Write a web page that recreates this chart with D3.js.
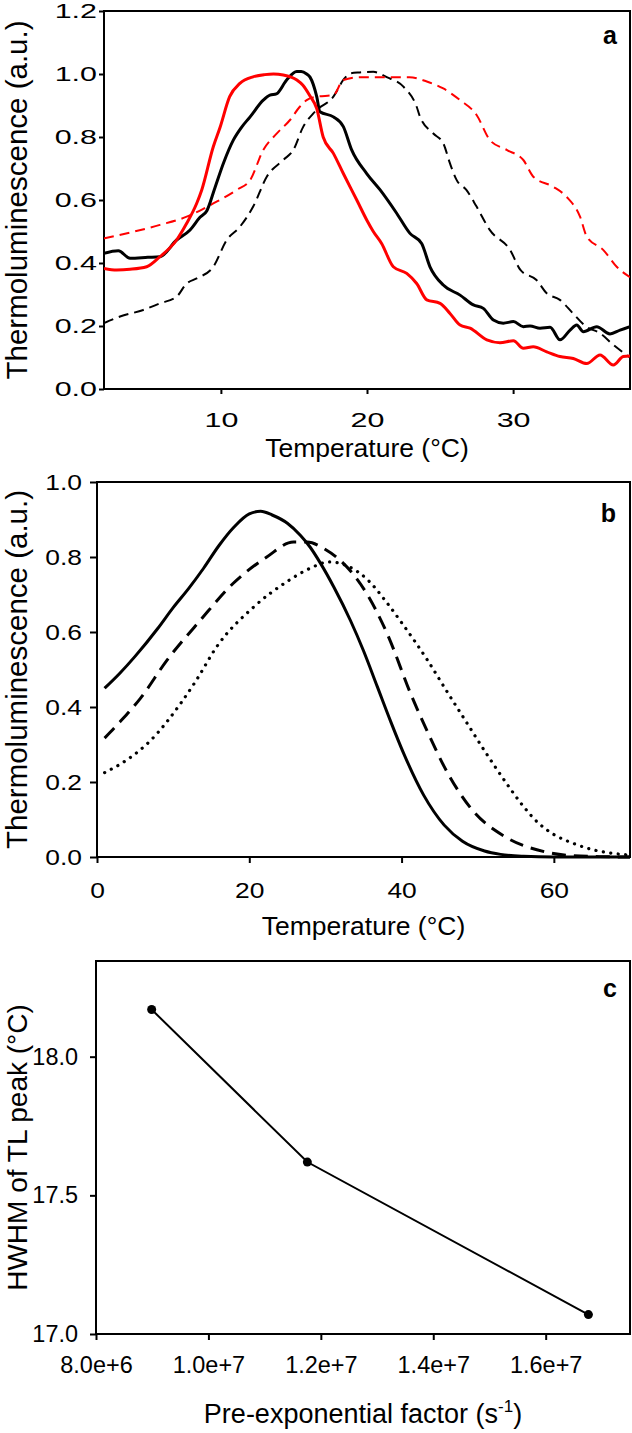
<!DOCTYPE html>
<html><head><meta charset="utf-8">
<script src="https://cdn.jsdelivr.net/npm/d3@7"></script>
<style>
body{margin:0;background:#fff}
svg{display:block}
text{font-family:"Liberation Sans",Arial,sans-serif;fill:#000}
</style>
</head><body>
<svg id="chart" width="632" height="1433"></svg>
<script>
// ---------- Panel a data (measured TL glow curves) ----------
const aBlackSolidT = [2.0,2.98,3.78,5.0,5.83,6.97,7.89,8.57,9.03,9.6,10.2,10.85,11.4,12.0,12.9,13.36,13.8,14.5,15.19,15.5,15.87,16.1,16.56,16.78,17.7,18.38,18.95,19.98,20.9,22.03,22.94,23.74,24.31,25.22,26.37,27.28,27.96,28.65,29.33,30.02,30.7,31.16,31.84,32.53,33.21,33.9,34.35,34.81,35.72,36.63,37.32,38.0];
const aBlackSolidV = [0.431,0.439,0.415,0.418,0.42,0.473,0.505,0.545,0.565,0.64,0.72,0.79,0.83,0.864,0.917,0.933,0.937,0.981,1.008,1.008,1.0,0.99,0.928,0.88,0.864,0.833,0.759,0.684,0.632,0.558,0.494,0.462,0.388,0.33,0.298,0.267,0.256,0.219,0.209,0.214,0.198,0.2,0.193,0.196,0.156,0.187,0.203,0.182,0.198,0.175,0.187,0.198];
const aRedSolidT = [2.0,2.87,3.78,4.92,5.83,6.97,7.66,8.34,8.69,9.48,9.94,10.6,11.3,12.2,13.0,13.6,14.27,15.2,15.6,16.1,16.56,17.0,17.7,18.38,19.3,20.0,20.43,21.0,21.8,22.72,23.4,24.09,25.0,25.68,26.37,27.05,28.2,29.1,30.02,30.7,31.38,32.3,33.21,34.12,35.04,35.95,36.86,37.54,38.0];
const aRedSolidV = [0.383,0.378,0.38,0.388,0.42,0.473,0.526,0.589,0.632,0.769,0.83,0.928,0.97,0.991,0.998,1.0,0.997,0.981,0.965,0.93,0.89,0.8,0.748,0.684,0.6,0.535,0.5,0.462,0.388,0.367,0.335,0.283,0.272,0.24,0.203,0.193,0.156,0.147,0.153,0.129,0.134,0.118,0.103,0.097,0.081,0.108,0.076,0.103,0.105];
const aBlackDashedT = [2.0,3.1,4.69,5.83,6.97,7.66,8.34,9.48,10.4,11.3,12.22,13.14,14.27,14.96,15.64,16.33,16.56,17.7,18.38,18.84,19.5,20.43,21.35,22.49,23.4,23.63,24.54,25.22,25.68,26.14,26.8,27.5,28.4,29.8,30.5,31.6,32.3,33.2,34.1,35.0,35.95,36.86,38.0];
const aBlackDashedV = [0.209,0.23,0.251,0.272,0.293,0.335,0.351,0.388,0.473,0.515,0.58,0.674,0.727,0.759,0.833,0.875,0.886,0.928,0.981,1.002,1.005,1.007,0.99,0.96,0.896,0.864,0.811,0.78,0.716,0.663,0.632,0.579,0.505,0.441,0.378,0.346,0.304,0.283,0.24,0.198,0.177,0.14,0.1];
const aRedDashedT = [2.0,4.0,5.83,7.66,8.5,9.48,11.08,12.0,12.9,13.8,14.73,15.4,15.87,16.56,17.7,18.38,19.52,21.1,22.9,24.09,25.22,26.37,27.5,28.42,29.56,30.7,31.38,32.75,33.66,34.58,35.04,36.18,37.09,38.0];
const aRedDashedV = [0.478,0.499,0.521,0.547,0.565,0.589,0.632,0.663,0.759,0.81,0.854,0.896,0.917,0.928,0.933,0.981,0.99,0.99,0.99,0.976,0.954,0.917,0.87,0.79,0.759,0.727,0.674,0.642,0.61,0.547,0.484,0.441,0.388,0.355];
const aXTicks = [10,20,30];
const aYTicks = [0,0.2,0.4,0.6,0.8,1.0,1.2];

// ---------- Panel b data (simulated TL peaks) ----------
const bSolidT = [1,3,5,8,10,12,14,16,18,20,21.5,23,25,26.7,28,29.3,31.1,33.3,35,36.8,38.5,40.3,42.9,45.6,48,50.9,53,56,60,65,70];
const bSolidV = [0.45,0.49,0.535,0.61,0.665,0.715,0.77,0.83,0.88,0.915,0.922,0.912,0.89,0.858,0.826,0.785,0.72,0.63,0.55,0.455,0.365,0.275,0.165,0.085,0.042,0.016,0.007,0.002,0,0,0];
const bDashedT = [1,3,5.7,9.2,13.6,17.9,22.3,25.8,27.6,30,32,35.5,38.1,41.3,43.5,45.6,49.3,53.6,58.8,62,66,70];
const bDashedV = [0.317,0.36,0.423,0.525,0.632,0.73,0.80,0.84,0.84,0.82,0.79,0.70,0.596,0.43,0.33,0.241,0.125,0.054,0.014,0.004,0.001,0];
const bDottedT = [1,4,7,11,13,15.7,20.6,25,28,30.5,33,35.5,38,40,43.4,46,48.5,51,54,56,58,60,62.6,65,67,70];
const bDottedV = [0.225,0.26,0.31,0.41,0.47,0.56,0.667,0.735,0.77,0.787,0.775,0.74,0.68,0.625,0.525,0.44,0.36,0.28,0.19,0.135,0.09,0.06,0.036,0.02,0.012,0.005];
const bXTicks = [0,20,40,60];
const bYTicks = [0,0.2,0.4,0.6,0.8,1.0];

// ---------- Panel c data ----------
const cFactor = [8.99e6, 1.176e7, 1.676e7];
const cHWHM = [18.17, 17.62, 17.07];
const cXTicks = [8e6,1.0e7,1.2e7,1.4e7,1.6e7];
const cYTicks = [17.0,17.5,18.0];

const svg = d3.select("#chart");

function zip(t, v){ return t.map((d,i)=>({x:d,y:v[i]})); }

function stretch(g, sx){
  g.selectAll(".tick text").each(function(){
    const t = d3.select(this);
    const x = +t.attr("x") || 0;
    t.attr("transform", `translate(${x},0) scale(${sx},1)`).attr("x", 0);
  });
}

function axes(cfg){
  const x = d3.scaleLinear().domain(cfg.xDomain).range([cfg.left, cfg.right]);
  const y = d3.scaleLinear().domain(cfg.yDomain).range([cfg.bottom, cfg.top]);
  const gx = svg.append("g").attr("transform", `translate(0,${cfg.bottom})`)
    .call(d3.axisBottom(x).tickValues(cfg.xTicks).tickFormat(cfg.xFmt)
      .tickSizeInner(cfg.xTick).tickSizeOuter(0).tickPadding(cfg.xPad));
  const gy = svg.append("g").attr("transform", `translate(${cfg.left},0)`)
    .call(d3.axisLeft(y).tickValues(cfg.yTicks).tickFormat(cfg.yFmt)
      .tickSizeInner(cfg.yTick).tickSizeOuter(0).tickPadding(cfg.yPad));
  [gx, gy].forEach(g => {
    g.select(".domain").remove();
    g.selectAll(".tick line").attr("stroke", "#000").attr("stroke-width", 2);
    g.selectAll(".tick text").attr("font-size", cfg.font).attr("fill", "#000")
      .style("font-family", '"Liberation Sans",Arial,sans-serif');
    stretch(g, cfg.sx);
  });
  svg.append("rect").attr("x", cfg.left).attr("y", cfg.top)
    .attr("width", cfg.right - cfg.left).attr("height", cfg.bottom - cfg.top)
    .attr("fill", "none").attr("stroke", "#000").attr("stroke-width", 2);
  return {x, y};
}

function ytitle(txt, cy, size){
  svg.append("text").attr("transform", `translate(27,${cy}) rotate(-90)`)
    .attr("text-anchor", "middle").attr("font-size", size).text(txt);
}

// ===== Panel a =====
const A = {left:104, right:630, top:11, bottom:389};
const sa = axes(Object.assign({}, A, {xDomain:[2,38], yDomain:[0,1.2], xTicks:aXTicks, yTicks:aYTicks,
  xFmt:d3.format("d"), yFmt:d3.format(".1f"), xTick:5, xPad:18, yTick:5, yPad:2, font:21, sx:1.45}));
const lineA = d3.line().x(d=>sa.x(d.x)).y(d=>sa.y(d.y)).curve(d3.curveMonotoneX);
svg.append("clipPath").attr("id","clipA").append("rect")
  .attr("x",A.left).attr("y",A.top).attr("width",A.right-A.left).attr("height",A.bottom-A.top);
const ga = svg.append("g").attr("clip-path","url(#clipA)");
ga.append("path").datum(zip(aBlackDashedT,aBlackDashedV)).attr("d",lineA)
  .attr("fill","none").attr("stroke","#000").attr("stroke-width",2).attr("stroke-dasharray","10,6");
ga.append("path").datum(zip(aRedDashedT,aRedDashedV)).attr("d",lineA)
  .attr("fill","none").attr("stroke","#ff0000").attr("stroke-width",2).attr("stroke-dasharray","10,6");
ga.append("path").datum(zip(aBlackSolidT,aBlackSolidV)).attr("d",lineA)
  .attr("fill","none").attr("stroke","#000").attr("stroke-width",3).attr("stroke-linejoin","round");
ga.append("path").datum(zip(aRedSolidT,aRedSolidV)).attr("d",lineA)
  .attr("fill","none").attr("stroke","#ff0000").attr("stroke-width",3).attr("stroke-linejoin","round");
svg.append("text").attr("x",617).attr("y",44).attr("text-anchor","end")
  .attr("font-size",25).attr("font-weight","bold").text("a");
svg.append("text").attr("x",(A.left+A.right)/2).attr("y",457).attr("text-anchor","middle")
  .attr("font-size",26.5).text("Temperature (°C)");
ytitle("Thermoluminescence (a.u.)", (A.top+A.bottom)/2, 29.5);

// ===== Panel b =====
const B = {left:97, right:630, top:482, bottom:857};
const sb = axes(Object.assign({}, B, {xDomain:[0,70], yDomain:[0,1.0], xTicks:bXTicks, yTicks:bYTicks,
  xFmt:d3.format("d"), yFmt:d3.format(".1f"), xTick:6, xPad:19, yTick:7, yPad:8, font:22, sx:1.2}));
const lineB = d3.line().x(d=>sb.x(d.x)).y(d=>sb.y(d.y)).curve(d3.curveMonotoneX);
svg.append("path").datum(zip(bDottedT,bDottedV)).attr("d",lineB)
  .attr("fill","none").attr("stroke","#000").attr("stroke-width",3.2)
  .attr("stroke-linecap","round").attr("stroke-dasharray","0.1,7.4");
svg.append("path").datum(zip(bDashedT,bDashedV)).attr("d",lineB)
  .attr("fill","none").attr("stroke","#000").attr("stroke-width",3).attr("stroke-dasharray","14,8");
svg.append("path").datum(zip(bSolidT,bSolidV)).attr("d",lineB)
  .attr("fill","none").attr("stroke","#000").attr("stroke-width",3);
svg.append("text").attr("x",616).attr("y",522).attr("text-anchor","end")
  .attr("font-size",25).attr("font-weight","bold").text("b");
svg.append("text").attr("x",(B.left+B.right)/2).attr("y",935).attr("text-anchor","middle")
  .attr("font-size",26.5).text("Temperature (°C)");
ytitle("Thermoluminescence (a.u.)", (B.top+B.bottom)/2, 29.5);

// ===== Panel c =====
const C = {left:96, right:630, top:961, bottom:1334};
const sc = axes(Object.assign({}, C, {xDomain:[8e6,1.75e7], yDomain:[17.0,18.345], xTicks:cXTicks, yTicks:cYTicks,
  xFmt:d3.format(".1e"), yFmt:d3.format(".1f"), xTick:6, xPad:17, yTick:6, yPad:12, font:23, sx:1.02}));
const cPts = zip(cFactor, cHWHM);
svg.append("path").datum(cPts).attr("d", d3.line().x(d=>sc.x(d.x)).y(d=>sc.y(d.y)))
  .attr("fill","none").attr("stroke","#000").attr("stroke-width",2);
svg.append("g").selectAll("circle").data(cPts).join("circle")
  .attr("cx",d=>sc.x(d.x)).attr("cy",d=>sc.y(d.y)).attr("r",4.5).attr("fill","#000");
svg.append("text").attr("x",617).attr("y",997).attr("text-anchor","end")
  .attr("font-size",25).attr("font-weight","bold").text("c");
const tc = svg.append("text").attr("x",(C.left+C.right)/2).attr("y",1423).attr("text-anchor","middle")
  .attr("font-size",27);
tc.append("tspan").text("Pre-exponential factor (s");
tc.append("tspan").attr("font-size",17).attr("dy",-11).text("-1");
tc.append("tspan").attr("dy",11).text(")");
ytitle("HWHM of TL peak (°C)", (C.top+C.bottom)/2, 28);
</script>
</body></html>
